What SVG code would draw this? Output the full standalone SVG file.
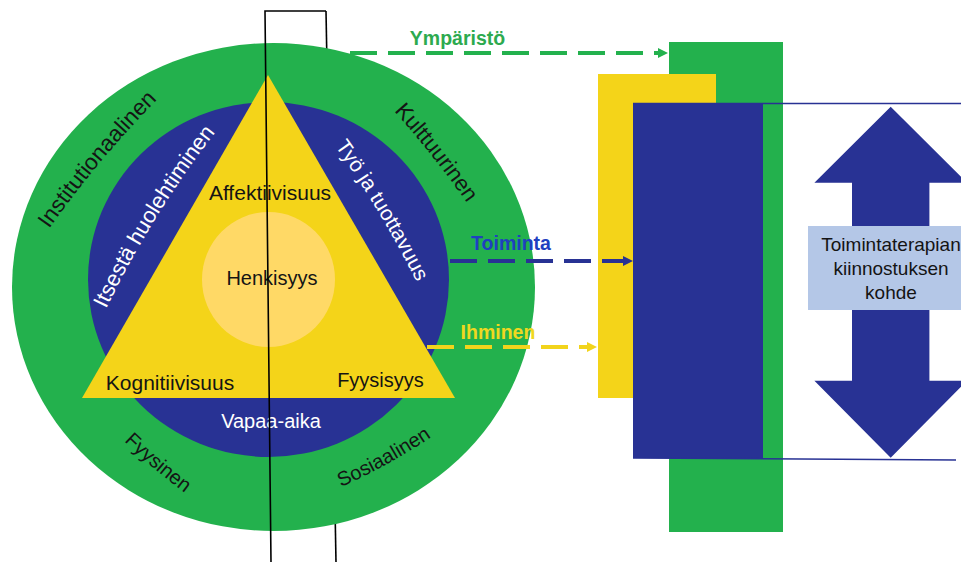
<svg xmlns="http://www.w3.org/2000/svg" width="961" height="562" viewBox="0 0 961 562">
<style>
  .t{font-family:"Liberation Sans",Arial,sans-serif;}
  .dk{fill:#141414}
  .wh{fill:#ffffff}
  .frame{stroke:#000;stroke-width:1.6;fill:none}
  .dash{fill:none;stroke-width:4;stroke-dasharray:27 11}
  .lbl{font-weight:bold;font-size:19.5px;text-anchor:middle}
  .mid{text-anchor:middle}
</style>
<defs>
  <marker id="ahG" markerUnits="userSpaceOnUse" markerWidth="11" markerHeight="11" refX="2" refY="5" orient="auto"><path d="M0,0 L10,5 L0,10 z" fill="#23B14D"/></marker>
  <marker id="ahB" markerUnits="userSpaceOnUse" markerWidth="11" markerHeight="11" refX="2" refY="5" orient="auto"><path d="M0,0 L10,5 L0,10 z" fill="#283294"/></marker>
  <marker id="ahY" markerUnits="userSpaceOnUse" markerWidth="11" markerHeight="11" refX="2" refY="5" orient="auto"><path d="M0,0 L10,5 L0,10 z" fill="#F2D41C"/></marker>
  <path id="pInst" d="M49,229 A1000,1000 0 0 1 159,98"/>
  <path id="pIts" d="M106,309 A1000,1000 0 0 1 218,129"/>
  <path id="pKult" d="M394,111 A1000,1000 0 0 1 467,203"/>
  <path id="pTyo" d="M335,146 A1000,1000 0 0 1 418,285"/>
  <path id="pFyys" d="M124,441 A600,600 0 0 0 185,493"/>
  <path id="pSos" d="M341,487 A600,600 0 0 0 430,438"/>
</defs>

<g id="frame-back">
  <line class="frame" x1="326" y1="11" x2="336" y2="562"/>
</g>

<g id="model">
  <g id="ymparisto-ring">
    <ellipse cx="273.5" cy="287" rx="261.5" ry="244" fill="#23B14D"/>
    <text class="t dk" font-size="22.5"><textPath href="#pInst">Institutionaalinen</textPath></text>
    <text class="t dk" font-size="22"><textPath href="#pKult">Kulttuurinen</textPath></text>
    <text class="t dk" font-size="20"><textPath href="#pFyys">Fyysinen</textPath></text>
    <text class="t dk" font-size="20"><textPath href="#pSos">Sosiaalinen</textPath></text>
  </g>
  <g id="toiminta-ring">
    <ellipse cx="268.5" cy="279.5" rx="180.5" ry="177.5" fill="#283294"/>
    <text class="t wh" font-size="22"><textPath href="#pIts">Itsestä huolehtiminen</textPath></text>
    <text class="t wh" font-size="21"><textPath href="#pTyo">Työ ja tuottavuus</textPath></text>
    <text class="t wh mid" font-size="20" x="271" y="428">Vapaa-aika</text>
  </g>
  <g id="ihminen-triangle">
    <polygon points="268,75 82,398 455,398" fill="#F4D419"/>
    <text class="t dk mid" font-size="21" x="270" y="200">Affektiivisuus</text>
    <text class="t dk mid" font-size="21" x="170" y="390">Kognitiivisuus</text>
    <text class="t dk mid" font-size="20" x="380.5" y="387">Fyysisyys</text>
  </g>
  <g id="henkisyys">
    <ellipse cx="268.5" cy="279.5" rx="66.5" ry="67.5" fill="#FFD966"/>
    <text class="t dk mid" font-size="20" x="272" y="285">Henkisyys</text>
  </g>
</g>

<g id="layers">
  <rect id="ymparisto-rect" x="669" y="42" width="114" height="490" fill="#23B14D"/>
  <rect id="ihminen-rect" x="598" y="74" width="118" height="324" fill="#F4D419"/>
  <rect id="toiminta-rect" x="633" y="103" width="130" height="355" fill="#283294"/>
  <line x1="633" y1="103.5" x2="961" y2="103.5" stroke="#283294" stroke-width="1.5"/>
  <line x1="633" y1="458" x2="956" y2="460" stroke="#283294" stroke-width="1.5"/>
</g>

<g id="connectors">
  <line class="dash" x1="350" y1="53" x2="660" y2="53" stroke="#23B14D" marker-end="url(#ahG)"/>
  <line class="dash" x1="450" y1="261" x2="625" y2="261" stroke="#283294" marker-end="url(#ahB)"/>
  <line class="dash" x1="427" y1="347" x2="589" y2="347" stroke="#F2D41C" marker-end="url(#ahY)"/>
  <text class="t lbl" x="457.5" y="45" fill="#2DAA4F">Ympäristö</text>
  <text class="t lbl" x="511" y="250" fill="#1F40C0">Toiminta</text>
  <text class="t lbl" x="498" y="339" fill="#F0D820">Ihminen</text>
</g>

<g id="kohde">
  <polygon points="890.7,106.7 967,182.7 929.4,182.7 929.4,380.7 967,380.7 890.7,457.7 814.4,380.7 852,380.7 852,182.7 814.4,182.7" fill="#283294"/>
  <rect x="808" y="226" width="170" height="84" fill="#B4C7E7"/>
  <text class="t dk mid" font-size="19" x="891" y="251">Toimintaterapian</text>
  <text class="t dk mid" font-size="19" x="891" y="275">kiinnostuksen</text>
  <text class="t dk mid" font-size="19" x="891" y="299">kohde</text>
</g>

<g id="frame-front">
  <polyline class="frame" points="326,11 265,11 271,562"/>
</g>
</svg>
